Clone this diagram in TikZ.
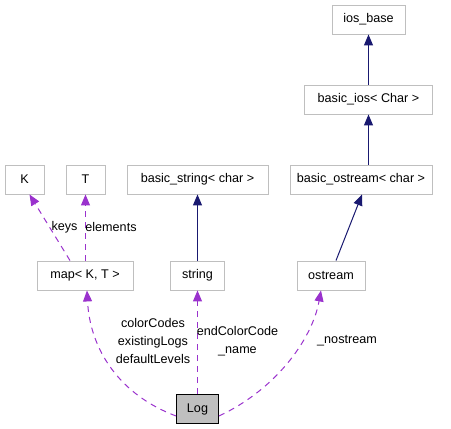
\documentclass[tikz,border=0pt]{standalone}
\usepackage{fontspec}
\setmainfont{Liberation Sans}
\usepackage{tikz}
\usetikzlibrary{arrows.meta}

\definecolor{boxgray}{RGB}{191,191,191}
\definecolor{inhblue}{RGB}{25,25,112}
\definecolor{usepurple}{RGB}{154,50,205}

\tikzset{
  classbox/.style={draw=boxgray, line width=0.9pt, minimum height=29pt, inner xsep=3pt, font=\fontsize{12.6}{18}\selectfont},
  inherit/.style={draw=inhblue, line width=1pt, -{Triangle[length=11pt,width=9pt]}},
  uses/.style={draw=usepurple, line width=1pt, dash pattern=on 6pt off 5pt, -{Triangle[length=11pt,width=9pt]}},
  edgelabel/.style={inner sep=0pt, align=center, font=\fontsize{12.6}{18}\selectfont}
}

\begin{document}
\begin{tikzpicture}[x=1pt,y=-1pt]
            \useasboundingbox (0,0) rectangle (451,429);

            % Clases
            \node[classbox, minimum width=73pt] (iosbase) at (368.5,19.5) {ios\_base};
            \node[classbox, minimum width=128pt] (basicios) at (368.5,99.5) {basic\_ios< Char >};
            \node[classbox, minimum width=142pt] (basicostream) at (361,179.5) {basic\_ostream< char >};
            \node[classbox, minimum width=68pt] (ostream) at (331,275.5) {ostream};
            \node[classbox, minimum width=141pt] (basicstring) at (197.5,179.5) {basic\_string< char >};
            \node[classbox, minimum width=54pt] (string) at (197.5,275.5) {string};
            \node[classbox, minimum width=39pt] (K) at (24.5,179.5) {K};
            \node[classbox, minimum width=39pt] (T) at (85.5,179.5) {T};
            \node[classbox, minimum width=96pt] (map) at (85,275.5) {map< K, T >};
            \node[classbox, draw=black, fill=boxgray, minimum width=42pt] (log) at (197.5,409) {Log};

            % Herencia
            \draw[inherit] (basicios) -- (iosbase);
            \draw[inherit] (basicostream.north -| basicios) -- (basicios);
            \draw[inherit] ([xshift=5pt]ostream.north) -- ([xshift=1pt]basicostream.south);
            \draw[inherit] (string) -- (basicstring);

            % Uso
            \draw[uses] ([xshift=-15pt]map.north) -- ([xshift=5pt]K.south);
            \draw[uses] (map.north -| T) -- (T);
            \draw[uses] ([yshift=-7pt]log.west) .. controls (120,395) and (90,350) .. ([xshift=2pt]map.south);
            \draw[uses] (log) -- (string);
            \draw[uses] ([yshift=-7pt]log.east) .. controls (275,390) and (312,340) .. ([xshift=-10pt]ostream.south);

            % Etiquetas
            \node[edgelabel] (lkeys) at (64.5,227) {keys};
            \node[edgelabel] (lelements) at (111,227) {elements};
            \node[edgelabel] (lmap) at (153,341) {colorCodes\\existingLogs\\defaultLevels};
            \node[edgelabel] (lstring) at (237.5,341.5) {endColorCode\\\_name};
            \node[edgelabel] (lostream) at (347,341) {\_nostream};
        \end{tikzpicture}
\end{document}
